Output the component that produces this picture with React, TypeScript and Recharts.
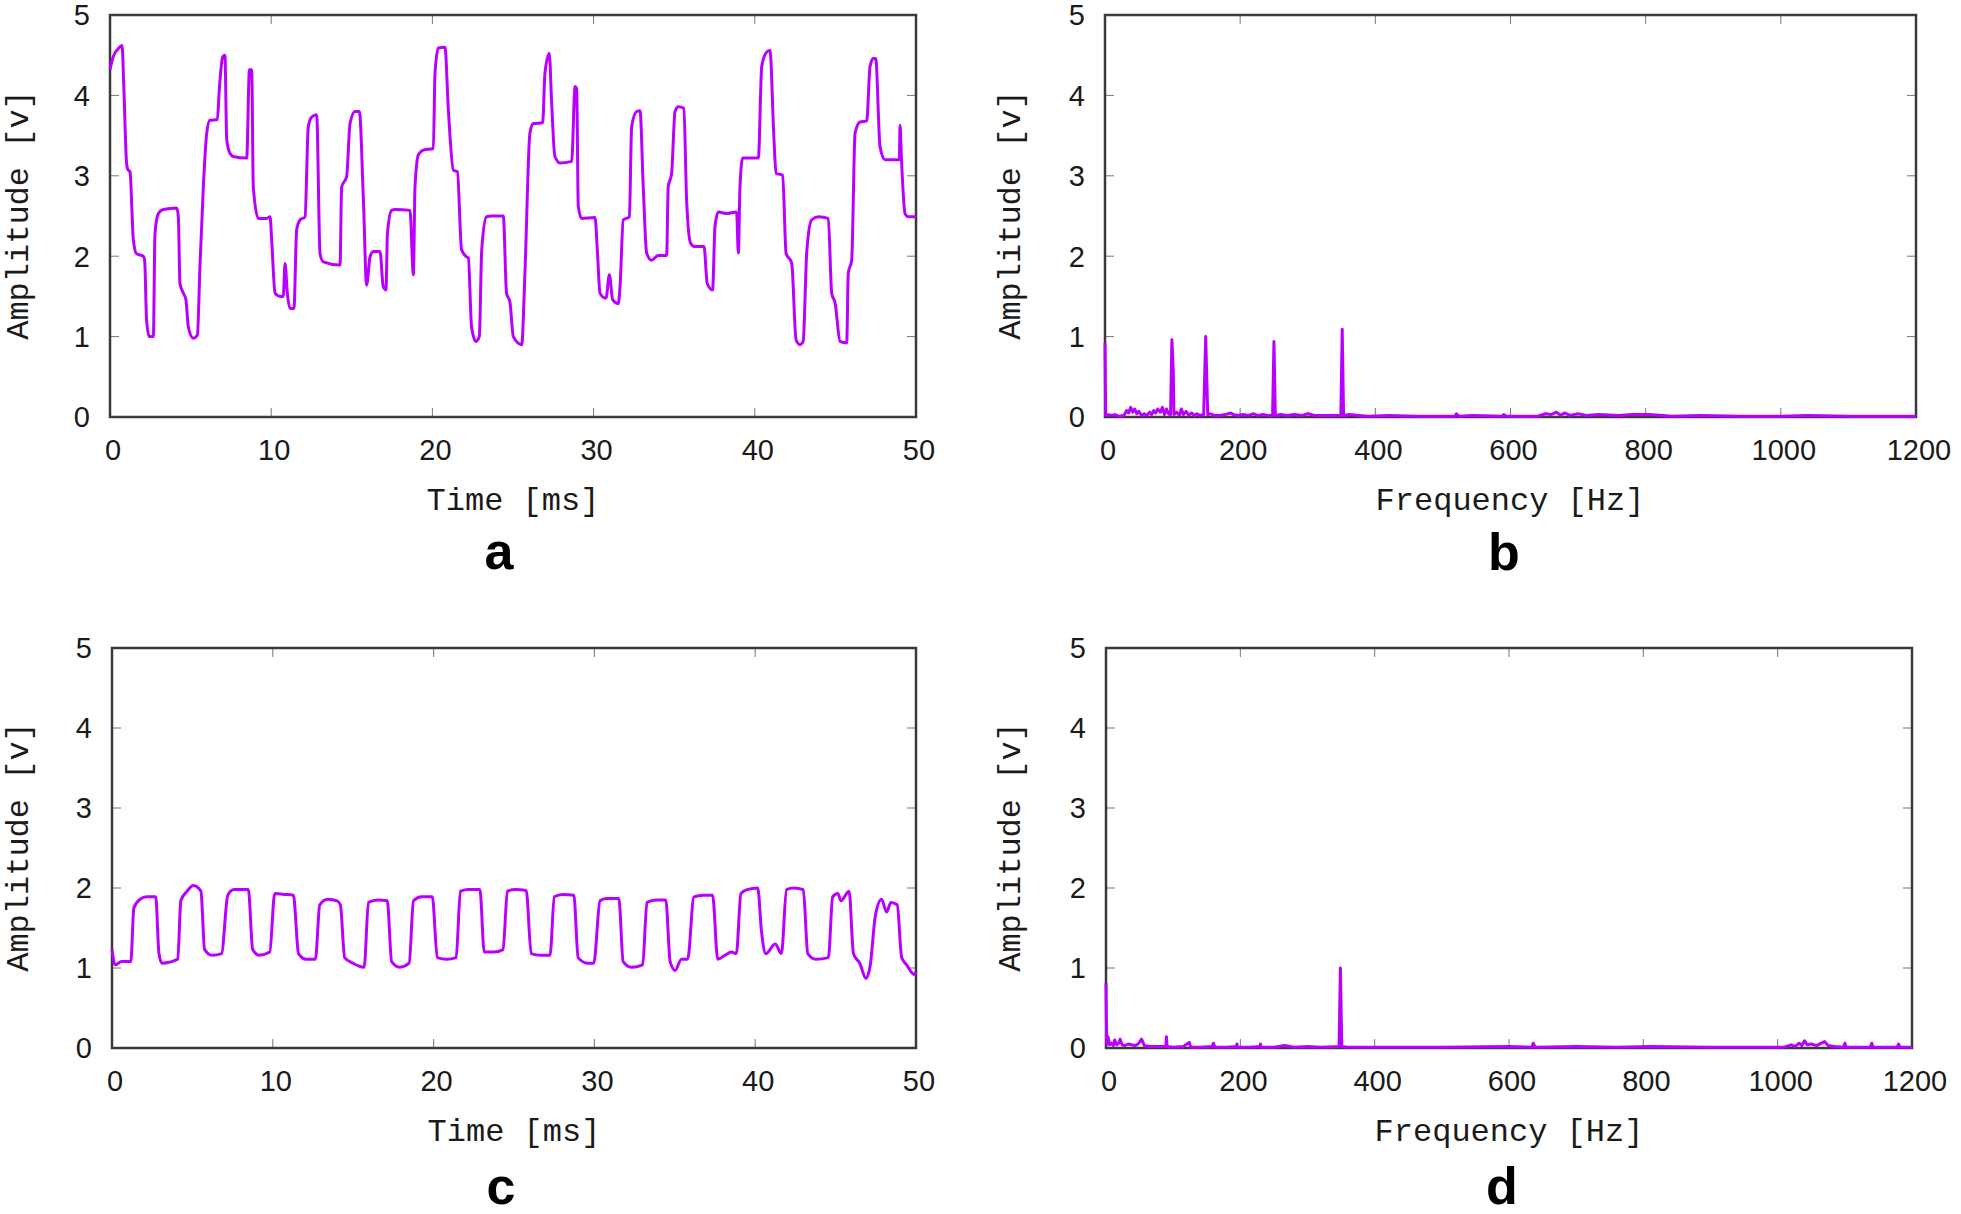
import { LineChart, Line, XAxis, YAxis, CartesianGrid, ReferenceArea } from 'recharts'

const timeTicks = [0, 10, 20, 30, 40, 50]
const freqTicks = [0, 200, 400, 600, 800, 1000, 1200]
const ampTicks = [0, 1, 2, 3, 4, 5]

// (a) time signal, [ms, v]
const signalA: [number, number][] = [
  [0, 4.32], [0.2, 4.48], [0.6, 4.6], [0.75, 4.62], [0.85, 4.15], [1.03, 3.15], [1.1, 3.08], [1.24, 3.05],
  [1.45, 2.2], [1.65, 2.03], [2.07, 2.0], [2.15, 1.95], [2.27, 1.2], [2.44, 1.0], [2.69, 1.0], [2.79, 2.28],
  [3.0, 2.53], [3.31, 2.58], [4.14, 2.6], [4.24, 2.49], [4.34, 1.66], [4.55, 1.54], [4.71, 1.46], [4.86, 1.12],
  [5.17, 0.98], [5.42, 1.02], [5.58, 1.87], [5.79, 2.86], [6.0, 3.53], [6.2, 3.69], [6.66, 3.7], [6.78, 4.07],
  [6.99, 4.48], [7.13, 4.5], [7.24, 3.45], [7.44, 3.28], [7.65, 3.24], [8.48, 3.22], [8.65, 4.32], [8.79, 4.32],
  [8.89, 2.86], [9.2, 2.47], [9.72, 2.47], [9.93, 2.49], [10.03, 2.2], [10.24, 1.54], [10.55, 1.5], [10.75, 1.5],
  [10.86, 1.91], [11.0, 1.54], [11.17, 1.35], [11.41, 1.35], [11.58, 2.33], [11.79, 2.45], [12.1, 2.49],
  [12.3, 3.61], [12.51, 3.73], [12.82, 3.76], [13.03, 2.03], [13.23, 1.93], [14.27, 1.89], [14.37, 2.86],
  [14.68, 2.99], [14.89, 3.65], [15.2, 3.8], [15.47, 3.8], [15.72, 2.7], [15.92, 1.64], [16.13, 1.99],
  [16.33, 2.06], [16.75, 2.06], [16.95, 1.62], [17.12, 1.58], [17.21, 2.28], [17.47, 2.57], [17.68, 2.58],
  [18.61, 2.57], [18.82, 1.77], [18.92, 2.86], [19.13, 3.26], [19.44, 3.32], [20.06, 3.34], [20.16, 4.27],
  [20.37, 4.59], [20.78, 4.6], [20.99, 3.82], [21.3, 3.07], [21.55, 3.05], [21.81, 2.08], [22.13, 1.99],
  [22.23, 1.98], [22.43, 1.12], [22.7, 0.94], [22.91, 1.0], [23.06, 2.08], [23.36, 2.49], [23.68, 2.5],
  [24.4, 2.5], [24.6, 1.54], [24.81, 1.43], [25.02, 1.0], [25.54, 0.9], [25.74, 1.79], [26.05, 3.53],
  [26.26, 3.65], [26.84, 3.66], [26.98, 4.27], [27.25, 4.52], [27.39, 3.94], [27.6, 3.24], [27.92, 3.16],
  [28.64, 3.18], [28.85, 4.11], [28.95, 4.08], [29.05, 2.62], [29.26, 2.47], [30.09, 2.48], [30.23, 2.08],
  [30.4, 1.54], [30.71, 1.48], [30.77, 1.48], [30.98, 1.77], [31.18, 1.46], [31.53, 1.41], [31.64, 1.62],
  [31.84, 2.45], [32.22, 2.49], [32.36, 3.61], [32.67, 3.8], [32.88, 3.81], [33.08, 2.86], [33.29, 2.04],
  [33.6, 1.95], [34.01, 2.01], [34.53, 2.01], [34.63, 2.86], [34.84, 3.03], [35.05, 3.8], [35.26, 3.86],
  [35.6, 3.84], [35.77, 2.7], [36.02, 2.16], [36.29, 2.12], [36.85, 2.12], [37.05, 1.66], [37.38, 1.58],
  [37.53, 2.37], [37.74, 2.55], [38.25, 2.53], [38.87, 2.55], [38.98, 2.04], [39.08, 2.86], [39.25, 3.22],
  [39.6, 3.22], [40.22, 3.22], [40.43, 4.36], [40.74, 4.54], [40.94, 4.56], [41.19, 3.45], [41.32, 3.03],
  [41.73, 3.01], [41.94, 2.04], [42.29, 1.91], [42.56, 0.96], [42.8, 0.9], [43.0, 0.94], [43.22, 2.04],
  [43.52, 2.45], [43.94, 2.49], [44.56, 2.47], [44.77, 1.54], [44.98, 1.42], [45.29, 0.94], [45.7, 0.92],
  [45.8, 1.79], [46.01, 1.95], [46.22, 3.53], [46.53, 3.67], [46.94, 3.68], [47.15, 4.36], [47.35, 4.46],
  [47.5, 4.46], [47.77, 3.36], [48.08, 3.2], [48.97, 3.2], [49.01, 3.63], [49.1, 3.2], [49.32, 2.53],
  [49.52, 2.49], [50, 2.49],
]

// (b) spectrum of (a), [Hz, v]
const spectrumB: [number, number][] = [
  [0, 0.92], [1, 0.02], [5, 0.03], [10, 0.02], [15, 0.03], [20, 0.01], [28, 0.02], [32, 0.08], [35, 0.05],
  [38, 0.12], [41, 0.06], [44, 0.1], [47, 0.04], [50, 0.07], [54, 0.02], [58, 0.04], [62, 0.02], [66, 0.06],
  [69, 0.03], [72, 0.08], [75, 0.05], [78, 0.1], [82, 0.06], [85, 0.12], [88, 0.03], [91, 0.1], [94, 0.04],
  [97, 0.03], [99, 0.96], [101, 0.58], [102, 0.03], [106, 0.06], [110, 0.02], [113, 0.1], [116, 0.03],
  [120, 0.07], [124, 0.02], [128, 0.05], [132, 0.02], [136, 0.04], [140, 0.02], [146, 0.03], [149, 1.0],
  [152, 0.03], [156, 0.04], [162, 0.02], [170, 0.02], [178, 0.03], [186, 0.05], [190, 0.03], [196, 0.02],
  [204, 0.03], [212, 0.02], [220, 0.04], [226, 0.02], [234, 0.03], [240, 0.02], [248, 0.02], [250, 0.94],
  [252, 0.02], [260, 0.03], [270, 0.02], [280, 0.03], [292, 0.02], [300, 0.04], [310, 0.02], [320, 0.02],
  [335, 0.02], [349, 0.02], [351, 1.09], [353, 0.02], [362, 0.03], [375, 0.02], [390, 0.01], [420, 0.02],
  [460, 0.01], [518, 0.01], [520, 0.04], [524, 0.01], [545, 0.02], [588, 0.01], [590, 0.03], [594, 0.01],
  [640, 0.01], [652, 0.04], [660, 0.03], [668, 0.06], [674, 0.02], [680, 0.05], [688, 0.02], [700, 0.04],
  [712, 0.02], [730, 0.03], [760, 0.02], [780, 0.03], [805, 0.03], [840, 0.01], [880, 0.02], [940, 0.01],
  [1000, 0.01], [1040, 0.02], [1100, 0.01], [1200, 0.01],
]

// (c) time signal, [ms, v]
const signalC: [number, number][] = [
  [0, 1.23], [0.19, 1.04], [0.6, 1.08], [1.17, 1.08], [1.36, 1.75], [1.75, 1.86], [2.14, 1.89], [2.72, 1.89],
  [2.92, 1.18], [3.11, 1.06], [4.09, 1.11], [4.28, 1.84], [4.67, 1.96], [5.06, 2.03], [5.53, 1.96], [5.76, 1.23],
  [6.23, 1.16], [6.81, 1.18], [7.2, 1.91], [7.59, 1.98], [8.48, 1.98], [8.75, 1.23], [9.14, 1.16], [9.81, 1.2],
  [10.12, 1.93], [10.7, 1.92], [11.28, 1.91], [11.6, 1.18], [12.06, 1.11], [12.65, 1.11], [12.92, 1.79],
  [13.42, 1.86], [14.0, 1.84], [14.2, 1.79], [14.47, 1.13], [14.98, 1.06], [15.68, 1.01], [15.95, 1.82],
  [16.54, 1.85], [17.12, 1.84], [17.39, 1.08], [17.9, 1.01], [18.48, 1.06], [18.75, 1.84], [19.26, 1.89],
  [19.92, 1.89], [20.23, 1.13], [20.82, 1.11], [21.4, 1.13], [21.67, 1.96], [22.18, 1.98], [22.88, 1.98],
  [23.15, 1.2], [23.74, 1.2], [24.32, 1.23], [24.59, 1.96], [25.1, 1.98], [25.76, 1.97], [26.07, 1.18],
  [26.65, 1.16], [27.24, 1.16], [27.51, 1.89], [28.02, 1.92], [28.72, 1.91], [28.99, 1.13], [29.57, 1.06],
  [29.96, 1.06], [30.35, 1.84], [30.74, 1.87], [31.52, 1.87], [31.79, 1.08], [32.3, 1.01], [33.0, 1.04],
  [33.27, 1.82], [33.85, 1.85], [34.44, 1.85], [34.71, 1.08], [35.02, 0.97], [35.41, 1.11], [35.8, 1.11],
  [36.19, 1.89], [36.77, 1.91], [37.35, 1.91], [37.67, 1.11], [38.13, 1.16], [38.52, 1.2], [38.83, 1.18],
  [39.11, 1.93], [39.49, 1.98], [40.16, 2.0], [40.39, 1.46], [40.66, 1.18], [41.25, 1.3], [41.63, 1.18],
  [41.95, 1.98], [42.41, 2.0], [42.99, 1.98], [43.27, 1.18], [43.77, 1.11], [44.55, 1.13], [44.82, 1.89],
  [45.14, 1.93], [45.33, 1.84], [45.84, 1.96], [46.11, 1.18], [46.5, 1.06], [46.89, 0.87], [47.16, 1.04],
  [47.47, 1.65], [47.86, 1.86], [48.17, 1.7], [48.44, 1.82], [48.83, 1.79], [49.11, 1.13], [49.42, 1.04],
  [49.88, 0.92], [50, 0.95],
]

// (d) spectrum of (c), [Hz, v]
const spectrumD: [number, number][] = [
  [0, 0.81], [1, 0.05], [3, 0.14], [5, 0.04], [8, 0.06], [11, 0.03], [13, 0.1], [16, 0.04], [19, 0.06],
  [21, 0.11], [24, 0.04], [28, 0.03], [33, 0.05], [38, 0.04], [43, 0.03], [48, 0.05], [53, 0.11], [57, 0.03],
  [65, 0.02], [75, 0.02], [89, 0.02], [90, 0.14], [91, 0.02], [100, 0.01], [115, 0.02], [124, 0.07],
  [126, 0.01], [140, 0.01], [158, 0.02], [160, 0.06], [162, 0.01], [180, 0.01], [194, 0.02], [195, 0.05],
  [196, 0.01], [215, 0.01], [229, 0.02], [230, 0.05], [231, 0.01], [250, 0.01], [266, 0.03], [280, 0.01],
  [300, 0.02], [320, 0.01], [347, 0.02], [349, 1.0], [351, 0.02], [360, 0.01], [420, 0.01], [500, 0.01],
  [600, 0.02], [634, 0.01], [636, 0.06], [639, 0.01], [700, 0.02], [760, 0.01], [810, 0.02], [900, 0.01],
  [1010, 0.01], [1020, 0.04], [1026, 0.02], [1032, 0.06], [1036, 0.03], [1040, 0.09], [1044, 0.04],
  [1050, 0.05], [1058, 0.03], [1065, 0.06], [1070, 0.08], [1075, 0.03], [1085, 0.02], [1098, 0.01],
  [1100, 0.06], [1102, 0.01], [1138, 0.01], [1140, 0.06], [1142, 0.01], [1178, 0.01], [1180, 0.05],
  [1182, 0.01], [1200, 0.01],
]

const PURPLE = '#b900ff'
const sansFont = '"Liberation Sans", Arial, Helvetica, sans-serif'
const monoFont = '"Liberation Mono", "Courier New", monospace'
const X_AXIS_H = 63

const toRows = (pts: [number, number][]) => pts.map(([x, y]) => ({ x, y }))

const XTick = (props: any) => {
  const { x, y, payload } = props
  return (
    <text x={x + 3} y={y} dy="0.71em" textAnchor="middle" fontFamily={sansFont} fontSize={29} fill="#1a1a1a">
      {payload.value}
    </text>
  )
}

const YTick = (props: any) => {
  const { x, y, payload } = props
  return (
    <text x={x} y={y} dy="0.36em" textAnchor="end" fontFamily={sansFont} fontSize={29} fill="#1a1a1a">
      {payload.value}
    </text>
  )
}

interface PanelProps {
  left: number
  top: number
  width: number
  plotLeft: number
  plotRight: number
  plotTop: number
  plotBottom: number
  points: [number, number][]
  xMax: number
  xTicks: number[]
  smooth?: boolean
}

function Panel({ left, top, width, plotLeft, plotRight, plotTop, plotBottom, points, xMax, xTicks, smooth }: PanelProps) {
  const height = plotBottom - top + X_AXIS_H
  const plotW = plotRight - plotLeft
  const plotH = plotBottom - plotTop
  return (
    <div style={{ position: 'absolute', left, top }}>
      <LineChart
        width={width}
        height={height}
        data={toRows(points)}
        margin={{ top: plotTop - top, right: width - (plotRight - left), bottom: 0, left: 0 }}
      >
        {/* gnuplot style inward ticks on all four sides */}
        <CartesianGrid horizontal vertical={false} stroke="#777" strokeDasharray={`9 ${plotW - 18} 9`} />
        <CartesianGrid horizontal={false} vertical stroke="#777" strokeDasharray={`9 ${plotH - 18} 9`} />
        <XAxis
          dataKey="x"
          type="number"
          domain={[0, xMax]}
          ticks={xTicks}
          interval={0}
          height={X_AXIS_H}
          axisLine={false}
          tickLine={false}
          tickSize={0}
          tickMargin={22}
          tick={<XTick />}
        />
        <YAxis
          type="number"
          domain={[0, 5]}
          ticks={ampTicks}
          interval={0}
          width={plotLeft - left}
          axisLine={false}
          tickLine={false}
          tickSize={0}
          tickMargin={20}
          tick={<YTick />}
        />
        <Line
          type={smooth ? 'monotoneX' : 'linear'}
          dataKey="y"
          stroke={PURPLE}
          strokeWidth={3}
          strokeLinejoin="round"
          dot={false}
          isAnimationActive={false}
        />
        <ReferenceArea x1={0} x2={xMax} y1={0} y2={5} fill="none" stroke="#3a3a3a" strokeWidth={2.5} />
      </LineChart>
    </div>
  )
}

const Label = ({ x, y, text, rotate }: { x: number; y: number; text: string; rotate?: boolean }) => (
  <div
    style={{
      position: 'absolute',
      left: x,
      top: y,
      transform: `translate(-50%, -50%)${rotate ? ' rotate(-90deg)' : ''}`,
      fontFamily: monoFont,
      fontSize: 32,
      color: '#1a1a1a',
      whiteSpace: 'nowrap',
    }}
  >
    {text}
  </div>
)

// panel letter, placed by its baseline
const Letter = ({ x, baseline, text }: { x: number; baseline: number; text: string }) => (
  <div
    style={{
      position: 'absolute',
      left: x,
      top: baseline - 43,
      transform: 'translateX(-50%)',
      fontFamily: sansFont,
      fontWeight: 'bold',
      fontSize: 52,
      lineHeight: 0.95,
      color: '#000',
    }}
  >
    {text}
  </div>
)

export default function App() {
  return (
    <div style={{ position: 'absolute', left: 0, top: 0, width: 1961, height: 1214, background: '#fff', overflow: 'hidden' }}>
      <Panel left={0} top={0} width={960} plotLeft={110} plotRight={916} plotTop={15} plotBottom={417} points={signalA} xMax={50} xTicks={timeTicks} smooth />
      <Panel left={990} top={0} width={971} plotLeft={1105} plotRight={1916} plotTop={15} plotBottom={417} points={spectrumB} xMax={1200} xTicks={freqTicks} />
      <Panel left={0} top={632} width={960} plotLeft={112} plotRight={916} plotTop={648} plotBottom={1048} points={signalC} xMax={50} xTicks={timeTicks} smooth />
      <Panel left={990} top={632} width={971} plotLeft={1106} plotRight={1912} plotTop={648} plotBottom={1048} points={spectrumD} xMax={1200} xTicks={freqTicks} />

      <Label x={19} y={215} text="Amplitude [v]" rotate />
      <Label x={1011} y={215} text="Amplitude [v]" rotate />
      <Label x={19} y={847} text="Amplitude [v]" rotate />
      <Label x={1011} y={847} text="Amplitude [v]" rotate />

      <Label x={513} y={501} text="Time [ms]" />
      <Label x={1510} y={501} text="Frequency [Hz]" />
      <Label x={514} y={1132} text="Time [ms]" />
      <Label x={1509} y={1132} text="Frequency [Hz]" />

      <Letter x={499} baseline={570} text="a" />
      <Letter x={1504} baseline={571} text="b" />
      <Letter x={501} baseline={1205} text="c" />
      <Letter x={1502} baseline={1205} text="d" />
    </div>
  )
}
